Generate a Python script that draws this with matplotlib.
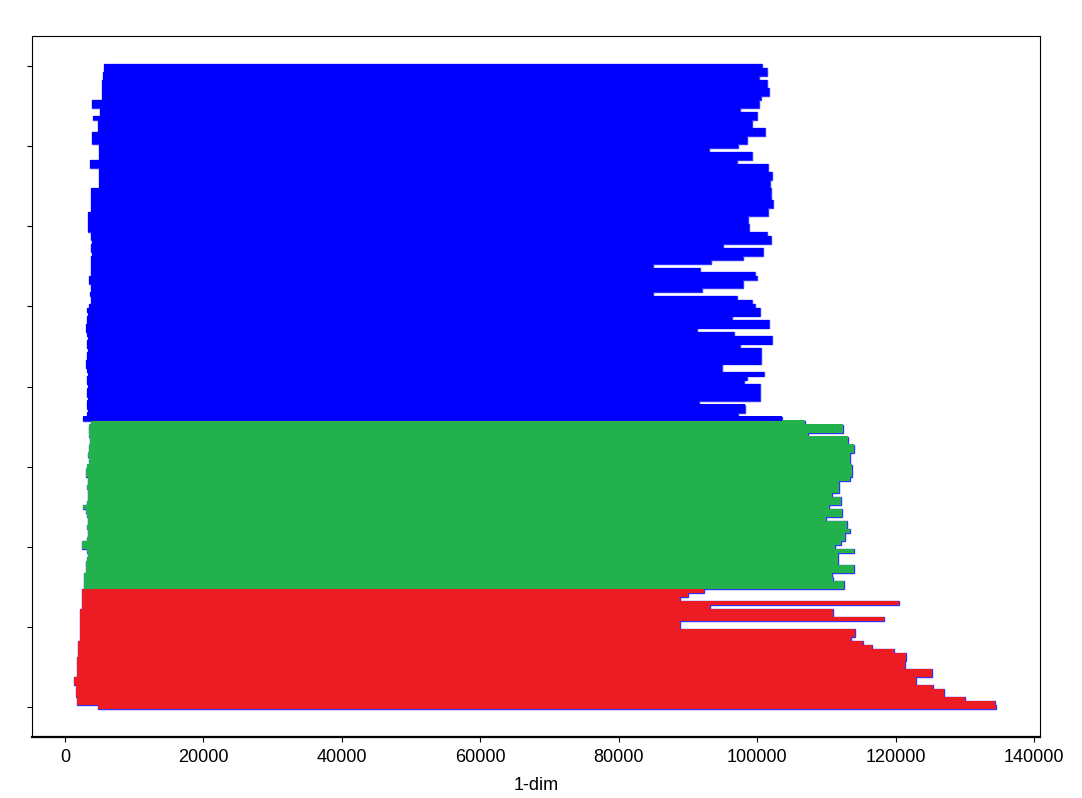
import matplotlib
matplotlib.use("Agg")
import matplotlib.pyplot as plt
import numpy as np

# number of rows per class (bottom to top)
class_names = ["red", "green", "blue"]
class_counts = [30, 42, 89]
class_colors = ["#ed1c24", "#22b14c", "#0000ff"]

starts_red = [4800, 1700, 1700, 1600, 1600, 1600, 1300, 1300, 1700, 1700,
              1700, 1700, 1700, 1900, 1900, 1900, 1900, 2200, 2200, 2200,
              2200, 2200, 2200, 2200, 2200, 2500, 2500, 2500, 2500, 2500]
ends_red = [134500, 134300, 130000, 127000, 127000, 125400, 123000, 123000, 125300, 125300,
            121400, 121400, 121500, 121500, 119800, 116600, 115300, 113600, 114100, 114100,
            88900, 88900, 118300, 111000, 111000, 93200, 120500, 88900, 90000, 92300]

starts_green = [2700, 2700, 2800, 2800, 3000, 3000, 3000, 3200, 3300, 3200,
                2400, 2400, 3200, 3300, 3300, 3200, 3300, 3300, 3200, 3000,
                2600, 3200, 3300, 3300, 3300, 3200, 3300, 3300, 3000, 3000,
                3200, 3400, 3400, 3300, 3400, 3500, 3600, 3600, 3500, 3400,
                3400, 3700]
ends_green = [112600, 112600, 111000, 110800, 114000, 114000, 111700, 111700, 111700, 114000,
              111300, 112100, 112700, 112700, 113400, 113000, 113000, 110000, 112300, 112300,
              110400, 112100, 112100, 110800, 111800, 111800, 111800, 113400, 113700, 113700,
              113700, 113400, 113400, 113400, 114000, 114000, 113100, 113100, 107400, 112400,
              112400, 106900]

starts_blue = [2600, 3200, 3300, 3200, 3200, 3300, 3200, 3200, 3300, 3200,
               3200, 3300, 3200, 3000, 3000, 3200, 3200, 3300, 3200, 3200,
               3300, 3200, 3000, 3000, 3200, 3200, 3300, 3200, 3500, 3700,
               3700, 3600, 3700, 3700, 3500, 3500, 3700, 3800, 3700, 3800,
               3700, 3900, 3700, 3800, 3900, 3700, 3700, 3320, 3320, 3320,
               3320, 3320, 3760, 3760, 3760, 3760, 3760, 3760, 4910, 4910,
               4910, 4910, 4910, 3610, 3610, 4910, 4910, 4910, 4910, 3900,
               3900, 3900, 4770, 4770, 4770, 4050, 5060, 5060, 3900, 3900,
               5350, 5350, 5350, 5350, 5350, 5490, 5490, 5640, 5640]
ends_blue = [103600, 97300, 98300, 98300, 91600, 100400, 100400, 100400, 100400, 98100,
             98600, 101000, 94900, 94900, 100600, 100600, 100600, 100600, 97500, 102200,
             102200, 96700, 91300, 101700, 101700, 96400, 100400, 100400, 99700, 99300,
             97100, 85000, 92000, 98000, 98000, 100000, 99700, 91800, 84900, 93300,
             98000, 100900, 100900, 95100, 102000, 102000, 101400, 98800, 98800, 98700,
             98700, 101600, 101600, 102300, 102300, 102000, 102000, 102000, 101900, 101900,
             102200, 102200, 101600, 101600, 97100, 99300, 99300, 93000, 97300, 98600,
             98600, 101200, 101200, 99300, 99300, 100000, 100000, 97500, 100300, 100300,
             100600, 101700, 101700, 101400, 101400, 100300, 101400, 101400, 100700]

ytick_positions = [0, 20, 40, 60, 80, 100, 120, 140, 160]
xtick_values = [0, 20000, 40000, 60000, 80000, 100000, 120000, 140000]
xlabel = "1-dim"

starts = np.array(starts_red + starts_green + starts_blue, dtype=float)
ends = np.array(ends_red + ends_green + ends_blue, dtype=float)
colors = []
for c, n in zip(class_colors, class_counts):
    colors += [c] * n
rows = np.arange(len(starts))

fig = plt.figure(figsize=(10.82, 7.98), dpi=100)
ax = fig.add_axes([32 / 1082, 61 / 798, 1008 / 1082, 701 / 798])

# outline pass
ax.barh(rows, ends - starts, left=starts, height=1.0, color="#3333ff",
        edgecolor="#3333ff", linewidth=1.0, zorder=1)
# fill pass
ax.barh(rows, ends - starts, left=starts, height=1.06, color=colors,
        edgecolor="none", linewidth=0, zorder=2)

ax.set_xlim(-4770, 140870)
ax.set_ylim(-7.5, 167.5)
ax.set_yticks(ytick_positions)
ax.set_yticklabels([])
ax.set_xticks(xtick_values)
ax.tick_params(axis="x", pad=5)

font = ["Liberation Sans", "DejaVu Sans"]
ax.set_xticklabels([str(v) for v in xtick_values], family=font, fontsize=13)
ax.set_xlabel(xlabel, family=font, fontsize=13, labelpad=8)
ax.spines["bottom"].set_linewidth(1.6)

fig.savefig("out.png", dpi=100)
